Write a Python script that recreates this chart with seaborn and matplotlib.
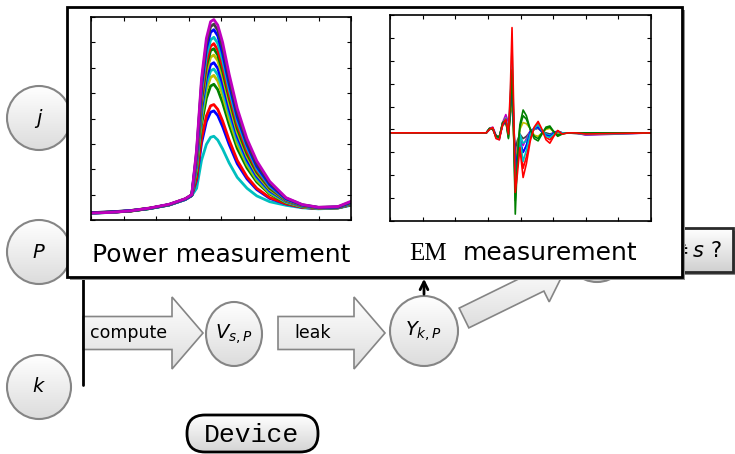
import matplotlib
matplotlib.use("Agg")
import matplotlib.pyplot as plt
from matplotlib.patches import Ellipse, FancyArrow, Rectangle, FancyBboxPatch
from matplotlib.colors import LinearSegmentedColormap
import numpy as np
import pandas as pd
import seaborn as sns

sns.set_style("white")
plt.rcParams['font.family'] = ['DejaVu Sans']
plt.rcParams['mathtext.fontset'] = 'dejavusans'
plt.rcParams['text.color'] = 'black'

# --- Trazas de potencia ---
power_x = [0.0, 0.6, 1.2, 1.8, 2.4, 2.9, 3.1, 3.25, 3.4, 3.55, 3.68, 3.78, 3.9, 4.05,
           4.25, 4.5, 4.8, 5.1, 5.5, 6.0, 6.5, 7.0, 7.6, 8.0]
pw_01 = [0.27, 0.30, 0.36, 0.47, 0.62, 0.84, 1.00, 2.78, 5.57, 7.16, 7.82, 7.90, 7.68, 7.00, 5.75, 4.40, 3.20, 2.33, 1.52, 0.88, 0.61, 0.50, 0.53, 0.74]
pw_02 = [0.28, 0.31, 0.35, 0.46, 0.60, 0.83, 0.99, 2.70, 5.40, 6.95, 7.62, 7.72, 7.48, 6.80, 5.56, 4.22, 3.06, 2.21, 1.46, 0.86, 0.60, 0.50, 0.52, 0.71]
pw_03 = [0.29, 0.32, 0.37, 0.46, 0.61, 0.82, 0.98, 2.60, 5.25, 6.75, 7.40, 7.50, 7.26, 6.56, 5.36, 4.06, 2.96, 2.11, 1.39, 0.83, 0.59, 0.49, 0.51, 0.69]
pw_04 = [0.26, 0.30, 0.36, 0.45, 0.59, 0.81, 0.97, 2.52, 5.05, 6.48, 7.10, 7.20, 6.96, 6.30, 5.15, 3.90, 2.85, 2.02, 1.33, 0.81, 0.58, 0.49, 0.51, 0.67]
pw_05 = [0.28, 0.31, 0.36, 0.46, 0.60, 0.82, 0.98, 2.45, 4.85, 6.25, 6.85, 6.95, 6.70, 6.05, 4.95, 3.75, 2.72, 1.95, 1.30, 0.80, 0.57, 0.48, 0.50, 0.66]
pw_06 = [0.27, 0.31, 0.35, 0.45, 0.61, 0.83, 0.98, 2.40, 4.70, 6.05, 6.68, 6.75, 6.50, 5.85, 4.80, 3.60, 2.60, 1.88, 1.25, 0.78, 0.56, 0.48, 0.50, 0.65]
pw_07 = [0.29, 0.32, 0.37, 0.47, 0.60, 0.82, 0.99, 2.30, 4.55, 5.85, 6.42, 6.50, 6.28, 5.65, 4.60, 3.45, 2.50, 1.80, 1.20, 0.76, 0.55, 0.47, 0.50, 0.64]
pw_08 = [0.28, 0.30, 0.36, 0.46, 0.59, 0.81, 0.97, 2.20, 4.35, 5.58, 6.12, 6.20, 5.98, 5.38, 4.38, 3.30, 2.38, 1.72, 1.15, 0.74, 0.54, 0.47, 0.49, 0.63]
pw_09 = [0.27, 0.31, 0.36, 0.45, 0.60, 0.82, 0.98, 2.10, 4.15, 5.35, 5.88, 5.95, 5.72, 5.15, 4.20, 3.15, 2.28, 1.65, 1.10, 0.72, 0.53, 0.46, 0.49, 0.62]
pw_10 = [0.28, 0.31, 0.37, 0.46, 0.61, 0.83, 0.98, 2.02, 4.00, 5.12, 5.62, 5.70, 5.48, 4.92, 4.00, 3.00, 2.18, 1.58, 1.06, 0.70, 0.52, 0.46, 0.48, 0.62]
pw_11 = [0.29, 0.31, 0.36, 0.46, 0.60, 0.82, 0.97, 1.90, 3.75, 4.80, 5.28, 5.35, 5.14, 4.62, 3.76, 2.82, 2.05, 1.50, 1.02, 0.68, 0.52, 0.46, 0.48, 0.61]
pw_12 = [0.27, 0.30, 0.35, 0.45, 0.59, 0.81, 0.96, 1.65, 3.20, 4.10, 4.50, 4.55, 4.36, 3.90, 3.15, 2.35, 1.70, 1.25, 0.88, 0.64, 0.50, 0.45, 0.48, 0.60]
pw_13 = [0.28, 0.31, 0.36, 0.46, 0.60, 0.82, 0.97, 1.58, 3.02, 3.88, 4.25, 4.30, 4.12, 3.68, 2.98, 2.22, 1.62, 1.20, 0.85, 0.63, 0.50, 0.45, 0.48, 0.60]
pw_14 = [0.28, 0.30, 0.36, 0.45, 0.59, 0.80, 0.96, 1.25, 2.35, 2.98, 3.26, 3.30, 3.15, 2.80, 2.25, 1.68, 1.25, 0.95, 0.72, 0.58, 0.48, 0.44, 0.47, 0.58]
power_traces = [pw_14, pw_13, pw_12, pw_11, pw_10, pw_09, pw_08, pw_07, pw_06, pw_05, pw_04, pw_03, pw_02, pw_01]
power_colors = ['#00bfbf', '#0000ff', '#ff0000', '#008000', '#bfbf00', '#00bfbf', '#0000ff',
                '#bfbf00', '#008000', '#ff0000', '#00bfbf', '#0000ff', '#404040', '#bf00bf']

# --- Trazas EM ---
em_x = [0.0, 2.95, 3.05, 3.15, 3.25, 3.35, 3.45, 3.55, 3.63, 3.69, 3.74, 3.79, 3.84, 3.9, 3.98,
        4.08, 4.18, 4.3, 4.42, 4.54, 4.66, 4.78, 4.9, 5.02, 5.14, 5.28, 5.45, 5.7, 6.0, 8.0]
em_red = [-0.15, -0.15, 0.00, 0.08, -0.40, -0.45, 0.20, 0.45, -0.20, 1.80, 4.45, 1.00, -2.75, -2.00, -0.80, -2.10, -1.50, -0.50, 0.10, 0.35, 0.00, -0.45, -0.60, -0.30, -0.05, -0.20, -0.15, -0.15, -0.20, -0.15]
em_green = [-0.15, -0.15, 0.05, 0.00, -0.30, -0.35, 0.30, 0.40, -0.40, 1.00, 2.60, 0.00, -3.70, -1.50, 0.20, 0.85, 0.60, 0.00, -0.40, -0.50, -0.20, 0.10, 0.15, -0.10, -0.30, -0.20, -0.15, -0.15, -0.15, -0.15]
em_cyan = [-0.15, -0.15, 0.02, 0.05, -0.35, -0.40, 0.25, 0.50, -0.30, 1.50, 3.60, 0.50, -3.00, -1.60, -0.30, -1.40, -0.90, -0.20, 0.05, 0.20, -0.05, -0.30, -0.35, -0.20, -0.10, -0.15, -0.15, -0.15, -0.22, -0.15]
em_blue = [-0.15, -0.15, 0.00, 0.05, -0.30, -0.35, 0.20, 0.35, -0.10, 1.00, 2.30, 0.30, -1.80, -1.20, -0.50, -1.00, -0.70, -0.10, 0.05, 0.10, -0.10, -0.25, -0.30, -0.15, -0.10, -0.15, -0.15, -0.15, -0.18, -0.15]
em_mag = [-0.15, -0.15, 0.05, 0.10, -0.25, -0.45, 0.30, 0.65, 0.30, 0.90, 1.80, -0.20, -1.40, -0.80, -0.40, -0.70, -0.40, -0.05, 0.00, 0.10, -0.10, -0.20, -0.30, -0.10, -0.10, -0.15, -0.15, -0.15, -0.25, -0.15]
em_olive = [-0.15, -0.15, 0.00, 0.05, -0.30, -0.30, 0.15, 0.30, -0.10, 0.80, 1.50, -0.30, -2.30, -0.90, 0.00, 0.30, 0.25, 0.05, -0.25, -0.30, -0.15, 0.00, 0.05, -0.10, -0.20, -0.15, -0.15, -0.15, -0.15, -0.15]
em_gray = [-0.15, -0.15, 0.02, 0.05, -0.30, -0.35, 0.20, 0.40, -0.20, 0.60, 1.20, 0.20, -0.90, -0.50, -0.20, -0.40, -0.30, -0.10, 0.00, 0.05, -0.10, -0.15, -0.20, -0.15, -0.15, -0.15, -0.15, -0.18, -0.22, -0.15]
em_red2 = [-0.15, -0.15, 0.00, 0.06, -0.35, -0.40, 0.25, 0.40, -0.25, 1.30, 3.00, 0.40, -2.40, -1.70, -0.60, -1.70, -1.20, -0.35, 0.05, 0.25, -0.05, -0.35, -0.45, -0.25, -0.05, -0.18, -0.15, -0.15, -0.18, -0.15]
em_green2 = [-0.15, -0.15, 0.04, 0.02, -0.28, -0.32, 0.28, 0.35, -0.35, 0.90, 2.00, -0.10, -3.10, -1.20, 0.10, 0.60, 0.45, 0.00, -0.30, -0.40, -0.15, 0.05, 0.10, -0.10, -0.25, -0.18, -0.15, -0.15, -0.15, -0.15]
em_cyan2 = [-0.15, -0.15, 0.01, 0.04, -0.32, -0.38, 0.22, 0.45, -0.15, 1.20, 2.80, 0.20, -2.20, -1.30, -0.20, -0.60, -0.50, -0.10, 0.00, 0.10, -0.05, -0.20, -0.25, -0.15, -0.12, -0.15, -0.15, -0.15, -0.20, -0.15]
em_traces = [em_gray, em_mag, em_olive, em_blue, em_green2, em_cyan2, em_red2, em_blue, em_cyan, em_green, em_red]
em_colors = ['#404040', '#bf00bf', '#bfbf00', '#0000ff', '#008000', '#00bfbf', '#ff0000',
             '#0000ff', '#00bfbf', '#008000', '#ff0000']


def to_long(x, traces):
    frames = []
    for i, tr in enumerate(traces):
        frames.append(pd.DataFrame({'t': x, 'v': tr, 'trace': i}))
    return pd.concat(frames, ignore_index=True)


def grad_patch(ax, patch, z, top='#ffffff', bottom='#d6d6d6'):
    # relleno degradado (blanco arriba, gris abajo) recortado a la forma
    patch.set_facecolor('none')
    patch.set_zorder(z + 0.1)
    ax.add_patch(patch)
    ext = patch.get_path().transformed(patch.get_patch_transform()).get_extents()
    cm = LinearSegmentedColormap.from_list('g', [top, bottom])
    im = ax.imshow(np.linspace(0, 1, 100).reshape(-1, 1), cmap=cm, aspect='auto',
                   extent=(ext.x0, ext.x1, ext.y1, ext.y0), zorder=z, interpolation='bilinear')
    im.set_clip_path(patch)


fig = plt.figure(figsize=(7.35, 4.54), dpi=100)
ax = fig.add_axes([0, 0, 1, 1])

# nodos (circulos)
nodes = [(39, 118, 64, 64, '$j$'), (39, 252, 64, 64, '$P$'), (39, 387, 64, 64, '$k$'),
         (234, 334, 56, 64, '$V_{s,P}$'), (424, 331, 68, 70, '$Y_{k,P}$'), (597, 250, 64, 64, '')]
for cx, cy, w, h, lab in nodes:
    grad_patch(ax, Ellipse((cx, cy), w, h, edgecolor='#858585', linewidth=1.5), 3,
               top='#ffffff', bottom='#dcdcdc')
    if lab:
        ax.text(cx, cy, lab, ha='center', va='center', fontsize=14, zorder=4)

# flechas de bloque
block_arrows = [(83, 333, 120, 0, 33, 72, 31, 'compute', 129),
                (278, 333, 107, 0, 33, 72, 31, 'leak', 313),
                (464, 318, 102, -50, 22, 46, 30, '', 0)]
for x0, y0, dx, dy, wd, hw, hl, lab, lx in block_arrows:
    arr = FancyArrow(x0, y0, dx, dy, width=wd, head_width=hw, head_length=hl,
                     length_includes_head=True, edgecolor='#858585', linewidth=1.2)
    grad_patch(ax, arr, 3, top='#ffffff', bottom='#dedede')
    if lab:
        ax.text(lx, y0, lab, ha='center', va='center', fontsize=12.5, zorder=4)

# linea vertical
ax.plot([83, 83], [270, 385], color='black', lw=2, zorder=5)

# flecha de medida
ax.annotate('', xy=(424, 276), xytext=(424, 297),
            arrowprops=dict(arrowstyle='->', lw=2, color='black', mutation_scale=14), zorder=5)

# caja de la decision
ax.add_patch(Rectangle((652, 231), 83, 44, facecolor='#8a8a8a', edgecolor='none', zorder=2.5))
grad_patch(ax, Rectangle((650, 228), 83, 44, edgecolor='#2a2a2a', linewidth=2), 3,
           top='#ffffff', bottom='#d0d0d0')
ax.text(722, 251, r'$\neq s$ ?', ha='right', va='center', fontsize=15, zorder=4)

# Device
dev = FancyBboxPatch((187, 415), 131, 37, boxstyle='round,pad=0,rounding_size=18',
                     edgecolor='black', linewidth=2)
grad_patch(ax, dev, 3, top='#ffffff', bottom='#d4d4d4')
ax.text(252, 435, 'Device', ha='center', va='center', fontsize=19,
        family='Liberation Mono', zorder=4)

# recuadro blanco con sombra
ax.add_patch(Rectangle((70, 10), 615, 270, facecolor='#909090', edgecolor='none', zorder=9))
ax.add_patch(Rectangle((67, 7), 615, 270, facecolor='white', edgecolor='black', linewidth=2, zorder=10))
ax.text(221, 262, 'Power measurement', ha='center', va='baseline', fontsize=18, zorder=11)
ax.text(409, 260, 'EM', ha='left', va='baseline', fontsize=18, family='Liberation Serif', zorder=11)
ax.text(463, 260, 'measurement', ha='left', va='baseline', fontsize=18, zorder=11)

ax.set_xlim(0, 735)
ax.set_ylim(454, 0)
ax.axis('off')

# graficos de trazas
ax_p = fig.add_axes([91 / 735, 1 - 220 / 454, 260 / 735, 203 / 454])
ax_e = fig.add_axes([390 / 735, 1 - 221 / 454, 261 / 735, 206 / 454])

df_p = to_long(power_x, power_traces)
sns.lineplot(data=df_p, x='t', y='v', hue='trace', palette=power_colors, legend=False,
             estimator=None, sort=False, linewidth=2.0, ax=ax_p)
df_e = to_long(em_x, em_traces)
sns.lineplot(data=df_e, x='t', y='v', hue='trace', palette=em_colors, legend=False,
             estimator=None, sort=False, linewidth=1.2, ax=ax_e)

ax_p.set_xlim(0, 8)
ax_p.set_ylim(0, 8)
ax_p.set_xticks(range(0, 9))
ax_p.set_yticks(range(0, 9))
ax_e.set_xlim(0, 8)
ax_e.set_ylim(-4, 5)
ax_e.set_xticks(range(0, 9))
ax_e.set_yticks(range(-4, 6))
for a in (ax_p, ax_e):
    a.set_xlabel('')
    a.set_ylabel('')
    a.tick_params(direction='in', length=3, width=0.8, top=True, right=True, bottom=True, left=True,
                  labelbottom=False, labelleft=False, colors='black')
    for s in a.spines.values():
        s.set_color('black')
        s.set_linewidth(1.2)

fig.savefig('out.png', dpi=100)
